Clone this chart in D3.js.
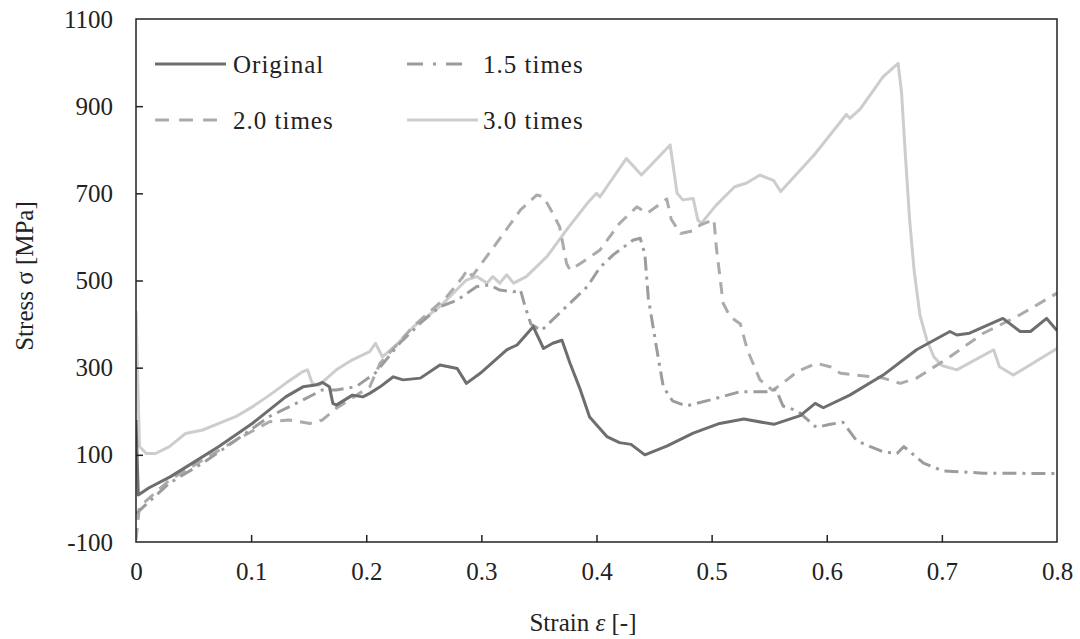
<!DOCTYPE html>
<html lang="en">
<head>
    <meta charset="UTF-8">
    <title>Stress-strain</title>
    <script src="https://cdnjs.cloudflare.com/ajax/libs/d3/7.8.5/d3.min.js"></script>
    <style>
        body { margin: 0; background: #fff; }
    </style>
</head>
<body>
<svg id="chart" width="1080" height="639"></svg>

<script>
    // [strain, stress]
    var original = [[0,180],[0.002,8],[0.011,24],[0.03,50],[0.049,81],[0.072,119],[0.101,172],[0.130,233],[0.145,256],
        [0.156,260],[0.162,266],[0.168,256],[0.171,218],[0.174,214],[0.188,237],[0.197,233],[0.203,241],[0.212,256],
        [0.2235,279],[0.232,272],[0.247,276],[0.264,306],[0.279,298],[0.287,264],[0.299,287],[0.322,341],[0.331,352],
        [0.345,394],[0.354,344],[0.362,356],[0.370,363],[0.377,310],[0.386,249],[0.394,187],[0.409,142],[0.420,128],
        [0.430,124],[0.442,100],[0.461,120],[0.484,150],[0.507,172],[0.528,182],[0.554,170],[0.577,190],[0.590,218],
        [0.597,208],[0.620,237],[0.649,283],[0.678,341],[0.707,383],[0.713,375],[0.724,379],[0.753,413],[0.768,383],
        [0.777,383],[0.791,413],[0.8,385]];

    var times15 = [[0,-35],[0.029,35],[0.058,81],[0.087,134],[0.116,188],[0.145,226],[0.162,249],[0.174,249],[0.191,256],
        [0.208,288],[0.229,356],[0.247,402],[0.264,440],[0.279,455],[0.296,486],[0.307,490],[0.316,478],[0.328,474],
        [0.334,478],[0.338,440],[0.343,400],[0.352,385],[0.392,486],[0.403,530],[0.415,560],[0.432,593],[0.438,597],
        [0.442,560],[0.445,460],[0.452,348],[0.458,256],[0.466,224],[0.478,212],[0.499,226],[0.525,245],[0.548,245],
        [0.556,250],[0.562,212],[0.575,200],[0.591,163],[0.603,170],[0.614,175],[0.626,132],[0.649,107],[0.661,103],
        [0.667,119],[0.684,81],[0.701,63],[0.736,58],[0.8,57]];

    var times20 = [[0,-95],[0.003,-19],[0.029,42],[0.058,88],[0.087,134],[0.116,176],[0.133,180],[0.151,172],[0.162,180],
        [0.174,207],[0.203,256],[0.212,310],[0.241,395],[0.270,463],[0.283,505],[0.288,525],[0.292,510],[0.313,585],
        [0.334,662],[0.348,696],[0.354,692],[0.362,654],[0.368,623],[0.374,539],[0.377,524],[0.386,539],[0.403,570],
        [0.420,631],[0.435,669],[0.444,654],[0.461,687],[0.465,640],[0.473,608],[0.484,614],[0.490,627],[0.502,640],
        [0.504,578],[0.510,448],[0.516,417],[0.525,400],[0.531,341],[0.542,272],[0.553,248],[0.562,265],[0.575,292],
        [0.591,310],[0.603,302],[0.612,287],[0.626,283],[0.649,276],[0.664,264],[0.678,276],[0.707,325],[0.736,379],
        [0.765,417],[0.8,471]];

    var times30 = [[0,430],[0.003,119],[0.009,103],[0.017,103],[0.029,119],[0.043,149],[0.058,157],[0.072,172],[0.087,188],
        [0.101,210],[0.116,237],[0.130,264],[0.145,291],[0.149,295],[0.153,264],[0.159,260],[0.174,295],[0.188,318],
        [0.203,337],[0.208,356],[0.214,325],[0.226,352],[0.241,394],[0.264,440],[0.287,501],[0.296,509],[0.305,494],
        [0.310,509],[0.316,494],[0.322,513],[0.328,494],[0.339,509],[0.357,555],[0.374,616],[0.392,677],[0.400,700],
        [0.403,692],[0.415,738],[0.426,780],[0.439,742],[0.464,811],[0.470,700],[0.475,685],[0.484,688],[0.488,639],
        [0.491,631],[0.504,673],[0.520,715],[0.530,723],[0.542,742],[0.554,729],[0.560,704],[0.589,788],[0.617,881],
        [0.620,872],[0.629,893],[0.649,968],[0.662,998],[0.665,930],[0.668,800],[0.672,639],[0.676,520],[0.681,420],
        [0.687,363],[0.693,325],[0.700,305],[0.713,295],[0.745,341],[0.750,302],[0.762,283],[0.8,344]];

    var seriesNames = ['Original', '1.5 times', '2.0 times', '3.0 times'];
    var xTicks = [0, 0.1, 0.2, 0.3, 0.4, 0.5, 0.6, 0.7, 0.8];
    var yTicks = [-100, 100, 300, 500, 700, 900, 1100];

    var styles = [
        { color: '#6e6e6e', dash: null },
        { color: '#9c9c9c', dash: '14,6,3,6' },
        { color: '#ababab', dash: '12,8' },
        { color: '#cdcdcd', dash: null }
    ];

    var FONT = 'Liberation Serif';
    var FONT_SIZE = 25;
    var TEXT_COLOR = '#222';

    var margin = { left: 136, right: 23, top: 19, bottom: 97 };
    var width = 1080 - margin.left - margin.right;
    var height = 639 - margin.top - margin.bottom;

    var svg = d3.select('#chart').attr('font-family', FONT);
    var g = svg.append('g').attr('transform', 'translate(' + margin.left + ',' + margin.top + ')');

    var x = d3.scaleLinear().domain([0, 0.8]).range([0, width]);
    var y = d3.scaleLinear().domain([-100, 1100]).range([height, 0]);

    g.append('clipPath').attr('id', 'plot-clip')
        .append('rect').attr('width', width).attr('height', height);

    var line = d3.line()
        .x(function (d) { return x(d[0]); })
        .y(function (d) { return y(d[1]); });

    var allSeries = [original, times15, times20, times30];

    // lighter series drawn first so darker lines sit on top
    var order = [3, 2, 1, 0];
    order.forEach(function (i) {
        g.append('path')
            .datum(allSeries[i])
            .attr('clip-path', 'url(#plot-clip)')
            .attr('fill', 'none')
            .attr('stroke', styles[i].color)
            .attr('stroke-width', 3)
            .attr('stroke-linejoin', 'round')
            .attr('stroke-dasharray', styles[i].dash)
            .attr('d', line);
    });

    // frame
    g.append('rect')
        .attr('width', width).attr('height', height)
        .attr('fill', 'none').attr('stroke', '#222').attr('stroke-width', 1.5);

    // axes with inward ticks
    var xAxis = g.append('g').attr('transform', 'translate(0,' + height + ')')
        .call(d3.axisBottom(x).tickValues(xTicks).tickSizeInner(-7).tickSizeOuter(0).tickPadding(20)
            .tickFormat(function (d) { return d === 0 ? '0' : d.toFixed(1); }));
    var yAxis = g.append('g')
        .call(d3.axisLeft(y).tickValues(yTicks).tickSizeInner(-7).tickSizeOuter(0).tickPadding(23)
            .tickFormat(function (d) { return String(d); }));

    [xAxis, yAxis].forEach(function (a) {
        a.attr('font-family', FONT).attr('font-size', FONT_SIZE);
        a.select('.domain').remove();
        a.selectAll('line').attr('stroke', '#222').attr('stroke-width', 1.5);
        a.selectAll('text').attr('fill', TEXT_COLOR).attr('font-family', FONT);
    });
    xAxis.selectAll('.tick line').filter(function (d) { return d === 0 || d === 0.8; }).remove();
    yAxis.selectAll('.tick line').filter(function (d) { return d === -100 || d === 1100; }).remove();

    // axis titles
    var xt = svg.append('text')
        .attr('x', 583).attr('y', 631)
        .attr('text-anchor', 'middle')
        .attr('font-family', FONT)
        .attr('font-size', FONT_SIZE)
        .attr('fill', TEXT_COLOR);
    xt.append('tspan').text('Strain ');
    xt.append('tspan').attr('font-style', 'italic').text('ε');
    xt.append('tspan').text('  [-]');

    svg.append('text')
        .attr('transform', 'translate(33,276) rotate(-90)')
        .attr('text-anchor', 'middle')
        .attr('font-family', FONT)
        .attr('font-size', FONT_SIZE)
        .attr('fill', TEXT_COLOR)
        .text('Stress  σ  [MPa]');

    // legend
    var legendPos = [
        { lx: 155, ly: 64 }, { lx: 407, ly: 64 },
        { lx: 155, ly: 120 }, { lx: 407, ly: 120 }
    ];
    var legend = svg.append('g');
    seriesNames.forEach(function (name, i) {
        var p = legendPos[i];
        var lineEnd = (i === 1) ? p.lx + 58 : p.lx + 71;
        legend.append('line')
            .attr('x1', p.lx).attr('x2', lineEnd)
            .attr('y1', p.ly).attr('y2', p.ly)
            .attr('stroke', styles[i].color)
            .attr('stroke-width', 3)
            .attr('stroke-dasharray', i === 1 ? '16,10,3,10' : (i === 2 ? '14,10' : null));
        legend.append('text')
            .attr('x', i % 2 === 0 ? 233 : 483)
            .attr('y', p.ly + 9)
            .attr('font-family', FONT)
            .attr('font-size', FONT_SIZE)
            .attr('letter-spacing', 1)
            .attr('fill', TEXT_COLOR)
            .text(name);
    });
</script>
</body>
</html>
